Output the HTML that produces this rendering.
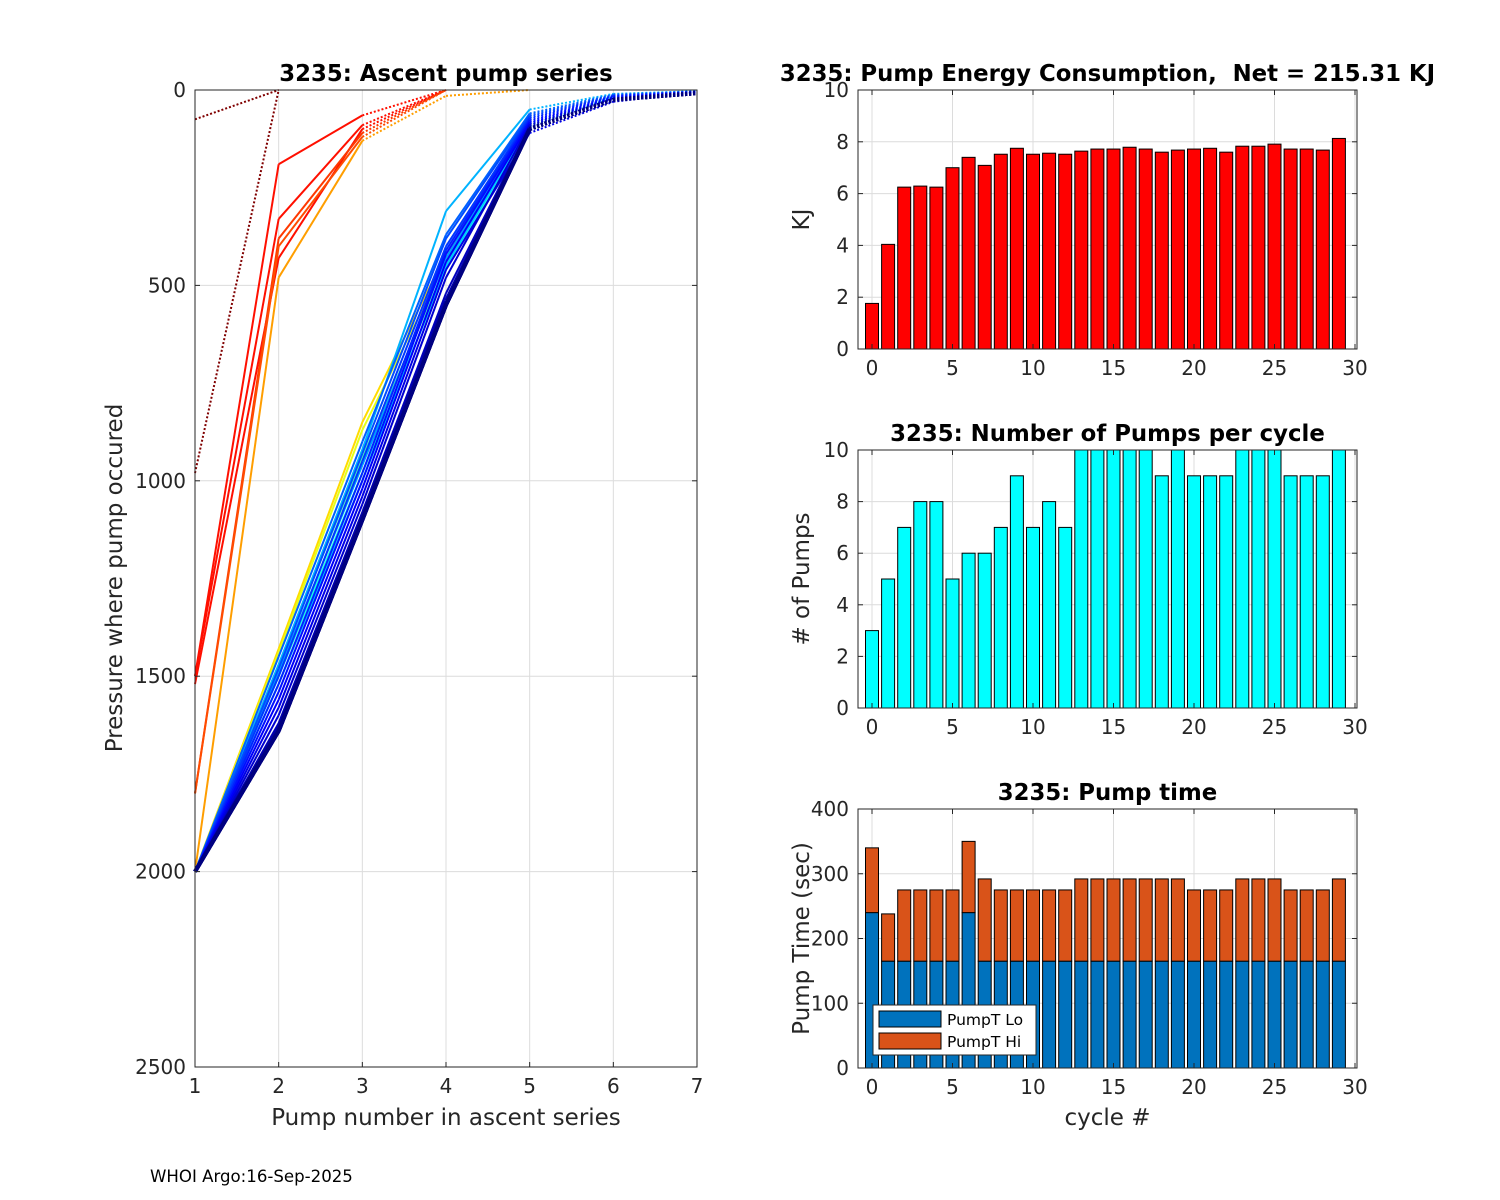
<!DOCTYPE html>
<html><head><meta charset="utf-8"><style>
html,body{margin:0;padding:0;background:#fff}
svg{display:block;font-family:"DejaVu Sans","Liberation Sans",sans-serif}
text{white-space:pre}
</style></head><body>
<svg id="s" width="1500" height="1200" viewBox="0 0 1500 1200" xmlns="http://www.w3.org/2000/svg"></svg>
<script>
// ---- data ----
const cycles = [0,1,2,3,4,5,6,7,8,9,10,11,12,13,14,15,16,17,18,19,20,21,22,23,24,25,26,27,28,29];
const energyKJ = [1.76,4.04,6.25,6.29,6.25,7.0,7.4,7.09,7.52,7.75,7.52,7.56,7.52,7.64,7.72,7.72,7.79,7.72,7.6,7.68,7.72,7.75,7.6,7.83,7.83,7.91,7.72,7.72,7.68,8.13];
const numPumps = [3,5,7,8,8,5,6,6,7,9,7,8,7,10,10,10,10,10,9,10,9,9,9,10,10,10,9,9,9,10];
const pumpTLo = [240,165,165,165,165,165,240,165,165,165,165,165,165,165,165,165,165,165,165,165,165,165,165,165,165,165,165,165,165,165];
const pumpTHi = [100,73,110,110,110,110,110,127,110,110,110,110,110,127,127,127,127,127,127,127,110,110,110,127,127,127,110,110,110,127];
const ascentProfiles = [
 [980,0],[75,0],
 [1500,190,65,0],[1500,330,90,0],[1520,430,100,0],[1800,380,110,0],[1800,400,120,0],[2000,480,130,15,0],
 [2000,1430,850,420,90,20,5],[2000,1440,870,440,95,22,5],[2000,1470,940,450,100,22,5],[2000,1500,980,460,95,20,5],
 [2000,1520,1000,450,90,20,5],[2000,1490,960,430,85,18,5],[2000,1470,920,310,50,10,3],[2000,1450,900,370,60,12,4],
 [2000,1480,930,380,65,14,4],[2000,1500,950,400,70,15,4],[2000,1520,980,410,75,16,5],[2000,1540,1000,420,80,18,5],
 [2000,1560,1020,440,85,20,5],[2000,1580,1040,460,110,30,6],[2000,1600,1060,480,90,22,6],[2000,1620,1080,520,95,24,7],
 [2000,1630,1090,540,100,25,8],[2000,1640,1100,550,100,25,8],[2000,1640,1100,550,100,25,8],[2000,1640,1100,550,100,25,8],
 [2000,1640,1100,550,100,25,8],[2000,1640,1100,550,100,25,8]
];
const leftXTicks=[1,2,3,4,5,6,7], leftYTicks=[0,500,1000,1500,2000,2500];
const rightXTicks=[0,5,10,15,20,25,30];
const eTicks=[0,2,4,6,8,10], nTicks=[0,2,4,6,8,10], tTicks=[0,100,200,300,400];
// colour position (jet) per profile - styling only
const colorT=[1,1,0.86,0.86,0.86,0.82,0.8,0.72,0.66,0.6,0.45,0.4,0.32,0.28,0.3,0.22,0.2,0.18,0.16,0.14,0.12,0.1,0.08,0.06,0.04,0,0,0,0,0];

const S=document.getElementById('s'), NS='http://www.w3.org/2000/svg';
function el(tag,attrs,parent,text){const e=document.createElementNS(NS,tag);for(const k in attrs)e.setAttribute(k,attrs[k]);if(text!==undefined)e.textContent=text;(parent||S).appendChild(e);return e;}
function jet(t){const r=Math.max(0,Math.min(1,1.5-Math.abs(4*t-3))),g=Math.max(0,Math.min(1,1.5-Math.abs(4*t-2))),b=Math.max(0,Math.min(1,1.5-Math.abs(4*t-1)));return `rgb(${Math.round(r*255)},${Math.round(g*255)},${Math.round(b*255)})`;}
const TICK=20, LAB=23, TIT=22.8;

// ---- left axes ----
const L={x0:195,x1:697,y0:90,y1:1067};
const lx=v=>L.x0+(v-1)*(L.x1-L.x0)/6, ly=p=>L.y0+p*(L.y1-L.y0)/2500;
let g=el('g',{},S);

el('rect',{x:L.x0,y:L.y0,width:L.x1-L.x0,height:L.y1-L.y0,fill:'#fff'},g);
leftXTicks.forEach(t=>{el('line',{x1:lx(t),x2:lx(t),y1:L.y0,y2:L.y1,stroke:'#dcdcdc','stroke-width':1},g);});
leftYTicks.forEach(t=>{el('line',{x1:L.x0,x2:L.x1,y1:ly(t),y2:ly(t),stroke:'#dcdcdc','stroke-width':1},g);});
const lines=el('g',{},g);

const N=ascentProfiles.length;
ascentProfiles.forEach((pr,i)=>{
 const col=jet(colorT[i]!==undefined?colorT[i]:0); const lw=i>=N-6?4:2;
 for(let k=0;k<pr.length-1;k++){
  const dotted=(pr[k]<150||pr[k+1]<20);
  const ln=el('line',{x1:lx(k+1),y1:ly(pr[k]),x2:lx(k+2),y2:ly(pr[k+1]),stroke:col,'stroke-width':lw,'stroke-dasharray':dotted?'2,2':'none'},lines);
  
  
 }
});
el('rect',{x:L.x0,y:L.y0,width:L.x1-L.x0,height:L.y1-L.y0,fill:'none',stroke:'#262626','stroke-width':1},g);
leftXTicks.forEach(t=>{el('line',{x1:lx(t),x2:lx(t),y1:L.y1,y2:L.y1-5,stroke:'#262626'},g);
 const tx=el('text',{x:lx(t),y:L.y1+26,'text-anchor':'middle','font-size':TICK,fill:'#262626'},g,String(t));});
leftYTicks.forEach(t=>{el('line',{x1:L.x0,x2:L.x0+5,y1:ly(t),y2:ly(t),stroke:'#262626'},g);el('line',{x1:L.x1,x2:L.x1-5,y1:ly(t),y2:ly(t),stroke:'#262626'},g);
 const tx=el('text',{x:L.x0-9,y:ly(t)+7,'text-anchor':'end','font-size':TICK,fill:'#262626'},g,String(t));});
let t1=el('text',{x:446,y:81,'text-anchor':'middle','font-size':TIT,'font-weight':'bold',fill:'#000'},S,'3235: Ascent pump series');

let t2=el('text',{x:446,y:1125,'text-anchor':'middle','font-size':LAB,fill:'#262626'},S,'Pump number in ascent series');

let t3=el('text',{x:122,y:578,'text-anchor':'middle','font-size':LAB,fill:'#262626',transform:'rotate(-90 122 578)'},S,'Pressure where pump occured');

let t4=el('text',{x:150,y:1182,'font-size':16.6,fill:'#000'},S,'WHOI Argo:16-Sep-2025');


// ---- right bar axes ----
const RX0=858,RX1=1357, rx=v=>872+v*16.1;
function barAxes(name,y0,y1,ymax,yticks,title,ylabel,series,xlabel){
 const G=el('g',{},S);
 
 const sy=v=>y1-v*(y1-y0)/ymax;
 rightXTicks.forEach(t=>el('line',{x1:rx(t),x2:rx(t),y1:y0,y2:y1,stroke:'#dcdcdc'},G));
 yticks.forEach(t=>el('line',{x1:RX0,x2:RX1,y1:sy(t),y2:sy(t),stroke:'#dcdcdc'},G));
 cycles.forEach((c,i)=>{let base=0;series.forEach(s=>{const v=s.vals[i];
  const r=el('rect',{x:rx(c)-6.5,y:sy(base+v),width:13,height:sy(base)-sy(base+v),fill:s.color,stroke:'#000','stroke-width':1},G);
  
  
  base+=v;});});
 el('rect',{x:RX0,y:y0,width:RX1-RX0,height:y1-y0,fill:'none',stroke:'#262626'},G);
 rightXTicks.forEach(t=>{el('line',{x1:rx(t),x2:rx(t),y1:y1,y2:y1-5,stroke:'#262626'},G);el('line',{x1:rx(t),x2:rx(t),y1:y0,y2:y0+5,stroke:'#262626'},G);
  const tx=el('text',{x:rx(t),y:y1+26,'text-anchor':'middle','font-size':TICK,fill:'#262626'},G,String(t));});
 yticks.forEach(t=>{el('line',{x1:RX0,x2:RX0+5,y1:sy(t),y2:sy(t),stroke:'#262626'},G);el('line',{x1:RX1,x2:RX1-5,y1:sy(t),y2:sy(t),stroke:'#262626'},G);
  const tx=el('text',{x:RX0-9,y:sy(t)+7,'text-anchor':'end','font-size':TICK,fill:'#262626'},G,String(t));});
 const tt=el('text',{x:(RX0+RX1)/2,y:y0-9,'text-anchor':'middle','font-size':TIT,'font-weight':'bold',fill:'#000'},G,title);
 
 const cy=(y0+y1)/2;
 const yl=el('text',{x:809,y:cy,'text-anchor':'middle','font-size':LAB,fill:'#262626',transform:`rotate(-90 809 ${cy})`},G,ylabel);
 
 if(xlabel){const xl=el('text',{x:(RX0+RX1)/2,y:y1+57,'text-anchor':'middle','font-size':LAB,fill:'#262626'},G,xlabel);}
 return G;
}
barAxes('energy-axes',90,349,10,eTicks,'3235: Pump Energy Consumption,  Net = 215.31 KJ','KJ',[{name:'energy-bar',vals:energyKJ,color:'#ff0000'}]);
barAxes('pumps-axes',450,708,10,nTicks,'3235: Number of Pumps per cycle','# of Pumps',[{name:'pumps-bar',vals:numPumps,color:'#00ffff'}]);
const G3=barAxes('pumptime-axes',809,1068,400,tTicks,'3235: Pump time','Pump Time (sec)',[{name:'pumpt-lo-bar',vals:pumpTLo,color:'#0072bd'},{name:'pumpt-hi-bar',vals:pumpTHi,color:'#d95319'}],'cycle #');
const lg=el('g',{},G3);

el('rect',{x:873,y:1005,width:163,height:50,fill:'#fff',stroke:'#262626'},lg);
el('rect',{x:879,y:1011,width:62,height:16,fill:'#0072bd',stroke:'#000'},lg);
el('rect',{x:879,y:1033,width:62,height:16,fill:'#d95319',stroke:'#000'},lg);
let e1=el('text',{x:947,y:1025,'font-size':15.5,fill:'#000'},lg,'PumpT Lo');
let e2=el('text',{x:947,y:1047,'font-size':15.5,fill:'#000'},lg,'PumpT Hi');
</script>
</body></html>
